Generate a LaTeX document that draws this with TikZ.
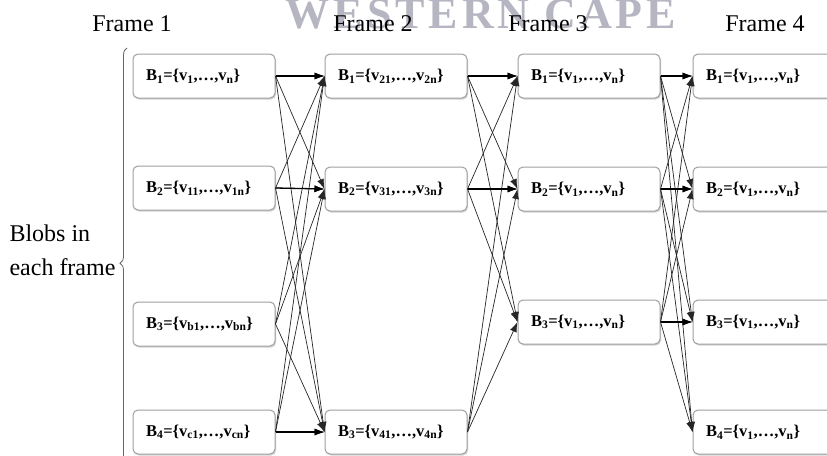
\documentclass[tikz,border=0pt]{standalone}
\usepackage{fontspec}
\setmainfont{Liberation Serif}
\usetikzlibrary{arrows.meta,decorations.pathreplacing,shadows}
\definecolor{wmark}{RGB}{182,182,194}
\newcommand{\blobset}[3]{B\textsubscript{#1}=\{v\textsubscript{#2},\ldots,v\textsubscript{#3}\}}
\begin{document}
\begin{tikzpicture}[x=1pt,y=-1pt,
 blob/.style={draw=gray!75, line width=1pt, rounded corners=5pt, fill=white,
   minimum height=44pt, text width=116pt, inner xsep=13pt, align=left,
   font=\bfseries\fontsize{16.5}{18}\selectfont,
   drop shadow={shadow xshift=1pt, shadow yshift=-1.5pt, fill=gray!45, opacity=0.8}},
 link/.style={-{Latex[length=10pt,width=7pt]}, line width=0.7pt, draw=black!85},
 straight/.style={link, line width=1.3pt, draw=black},
 framelbl/.style={font=\fontsize{24}{26}\selectfont}
]
\useasboundingbox (0,0) rectangle (827,455);
\clip (0,0) rectangle (827,455);
\fill[white] (0,0) rectangle (827,455);

% watermark
\node[text=wmark, font=\bfseries\fontsize{44}{44}\selectfont\addfontfeatures{LetterSpace=9}] (wm) at (481,14) {WESTERN CAPE};

% frame labels
\node[framelbl] (f1) at (132,24) {Frame 1};
\node[framelbl] (f2) at (373,24) {Frame 2};
\node[framelbl] (f3) at (548,24) {Frame 3};
\node[framelbl] (f4) at (765,24) {Frame 4};

% frame 1
\node[blob] (a1) at (204,76) {\blobset{1}{1}{n}};
\node[blob] (a2) at (204,188) {\blobset{2}{11}{1n}};
\node[blob] (a3) at (204,324) {\blobset{3}{b1}{bn}};
\node[blob] (a4) at (204,432) {\blobset{4}{c1}{cn}};
% frame 2
\node[blob] (b1) at (396,76) {\blobset{1}{21}{2n}};
\node[blob] (b2) at (396,189) {\blobset{2}{31}{3n}};
\node[blob] (b3) at (396,432) {\blobset{3}{41}{4n}};
% frame 3
\node[blob] (c1) at (589,76) {\blobset{1}{1}{n}};
\node[blob] (c2) at (589,189) {\blobset{2}{1}{n}};
\node[blob] (c3) at (589,322) {\blobset{3}{1}{n}};
% frame 4
\node[blob] (d1) at (764,76) {\blobset{1}{1}{n}};
\node[blob] (d2) at (764,189) {\blobset{2}{1}{n}};
\node[blob] (d3) at (764,322) {\blobset{3}{1}{n}};
\node[blob] (d4) at (764,432) {\blobset{4}{1}{n}};

% connectors
\foreach \i in {1,...,4} \foreach \j in {1,2,3} \draw[link] (a\i.east) -- (b\j.west);
\foreach \i in {1,2,3} \foreach \j in {1,2,3} \draw[link] (b\i.east) -- (c\j.west);
\foreach \i in {1,2,3} \foreach \j in {1,...,4} \draw[link] (c\i.east) -- (d\j.west);
\draw[straight] (a1.east) -- (b1.west);
\draw[straight] (a2.east) -- (b2.west);
\draw[straight] (a4.east) -- (b3.west);
\draw[straight] (b1.east) -- (c1.west);
\draw[straight] (b2.east) -- (c2.west);
\draw[straight] (c1.east) -- (d1.west);
\draw[straight] (c2.east) -- (d2.west);
\draw[straight] (c3.east) -- (d3.west);

% brace and label
\coordinate (bt) at (127,48);
\coordinate (bb) at (127,462);
\draw[decorate, decoration={brace, amplitude=7pt, aspect=0.48}, line width=0.8pt, draw=black!60] (bb) -- (bt);
\node[anchor=west, align=left, font=\fontsize{24}{34}\selectfont] (lbl) at (6,250) {Blobs in\\each frame};
\end{tikzpicture}
\end{document}
